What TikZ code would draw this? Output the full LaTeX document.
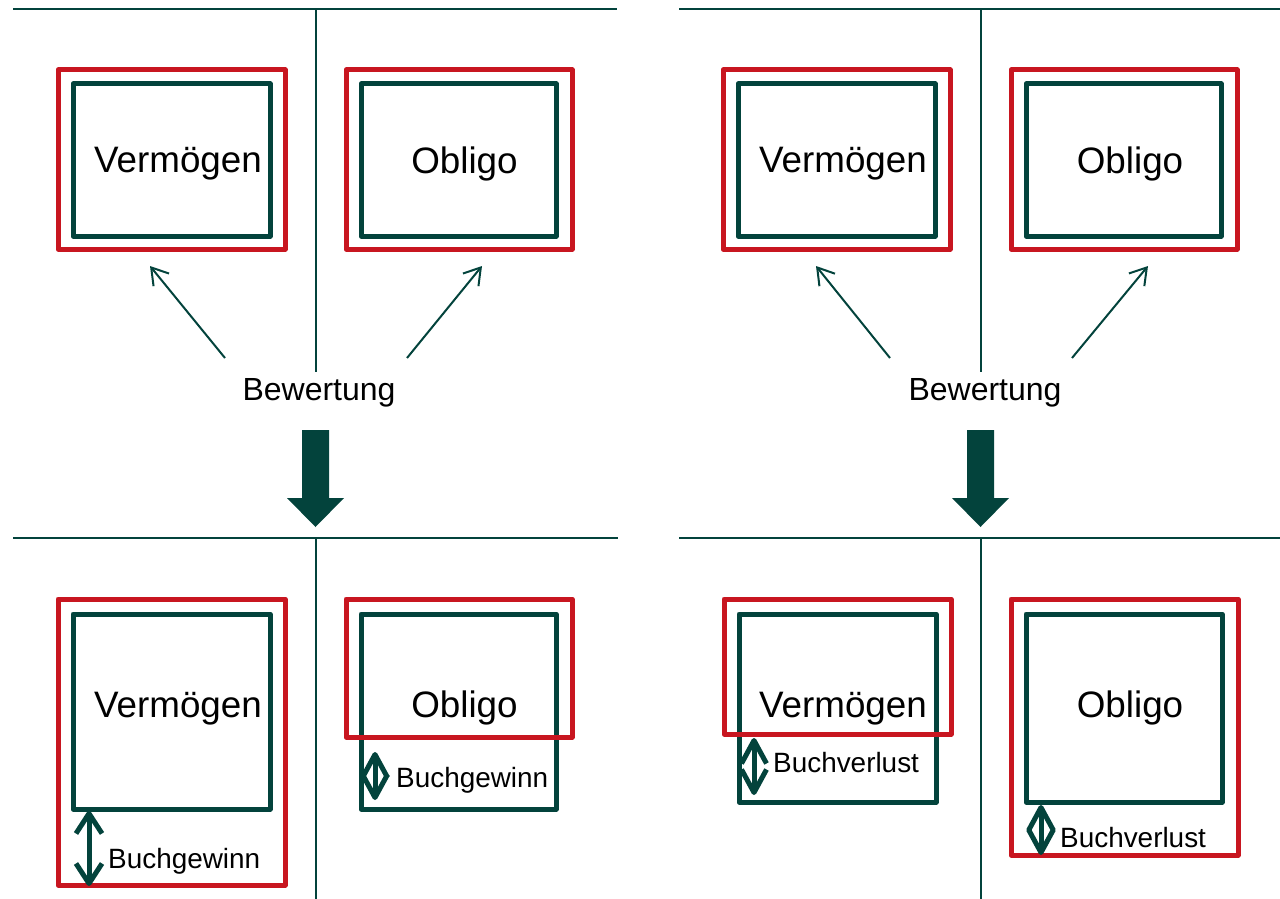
\documentclass[tikz,border=0pt]{standalone}
\usepackage{fontspec}
\setmainfont{Liberation Sans}
\usetikzlibrary{arrows.meta}
\definecolor{dg}{RGB}{3,67,60}
\definecolor{rd}{RGB}{200,22,32}
\begin{document}
\begin{tikzpicture}[x=1pt,y=-1pt,
 sep/.style={draw=dg,line width=2.5pt},
 gbox/.style={draw=dg,line width=5pt,rectangle,inner sep=0pt,line join=round},
 rbox/.style={draw=rd,line width=5pt,rectangle,inner sep=0pt,line join=round},
 bigtxt/.style={font=\fontsize{36.8}{40}\selectfont,anchor=base,inner sep=0pt},
 bewtxt/.style={font=\fontsize{32}{36}\selectfont,anchor=base,inner sep=0pt},
 smalltxt/.style={font=\fontsize{27.9}{30}\selectfont,anchor=base west,inner sep=0pt},
 dbl/.style={draw=dg,line width=5pt,{Straight Barb[length=20pt,width=26pt,line join=round]}-{Straight Barb[length=20pt,width=26pt,line join=round]}},
 dbls/.style={draw=dg,line width=5pt,{Straight Barb[length=23pt,width=25pt,line join=round]}-{Straight Barb[length=23pt,width=25pt,line join=round]}},
 thinarr/.style={draw=dg,line width=2pt,-{Straight Barb[length=16pt,width=20pt]}},
 blockarr/.style={fill=dg}
]
\useasboundingbox (0,0) rectangle (1280,899);

% separators
\draw[sep] (13,9) -- (617,9);
\draw[sep] (679,9) -- (1280,9);
\draw[sep] (13,538) -- (618,538);
\draw[sep] (679,538) -- (1280,538);
\draw[sep] (316,9) -- (316,372);
\draw[sep] (316,538) -- (316,899);
\draw[sep] (981,9) -- (981,372);
\draw[sep] (981,538) -- (981,899);

% ---------- top left ----------
\node[gbox,minimum width=197pt,minimum height=152pt] (gv1) at (171.5,160) {};
\node[rbox,minimum width=227pt,minimum height=179pt] (rv1) at (171.5,159.5) {};
\node[gbox,minimum width=195pt,minimum height=152pt] (go1) at (458.5,160) {};
\node[rbox,minimum width=226pt,minimum height=179pt] (ro1) at (459,159.5) {};
\node[bigtxt] (tv1) at (178,172) {Vermögen};
\node[bigtxt] (to1) at (464.5,173) {Obligo};
\node[bewtxt] (bw1) at (319,400) {Bewertung};
\coordinate (b1s) at (225,358); \coordinate (b1e) at (150,266);
\coordinate (b2s) at (407,358); \coordinate (b2e) at (482,266);
\draw[thinarr] (b1s) -- (b1e);
\draw[thinarr] (b2s) -- (b2e);
\fill[blockarr] (302,430) -- (329,430) -- (329,498) -- (344,498) -- (315.5,527) -- (287,498) -- (302,498) -- cycle;

% ---------- top right ----------
\node[gbox,minimum width=197pt,minimum height=152pt] (gv2) at (836.5,160) {};
\node[rbox,minimum width=227pt,minimum height=179pt] (rv2) at (836.5,159.5) {};
\node[gbox,minimum width=195pt,minimum height=152pt] (go2) at (1123.5,160) {};
\node[rbox,minimum width=226pt,minimum height=179pt] (ro2) at (1124,159.5) {};
\node[bigtxt] (tv2) at (843,172) {Vermögen};
\node[bigtxt] (to2) at (1130,173) {Obligo};
\node[bewtxt] (bw2) at (985,400) {Bewertung};
\coordinate (b3s) at (890,358); \coordinate (b3e) at (816,266);
\coordinate (b4s) at (1072,358); \coordinate (b4e) at (1148,266);
\draw[thinarr] (b3s) -- (b3e);
\draw[thinarr] (b4s) -- (b4e);
\fill[blockarr] (967,430) -- (994,430) -- (994,498) -- (1009,498) -- (980.5,527) -- (952,498) -- (967,498) -- cycle;

% ---------- bottom left ----------
\node[gbox,minimum width=197pt,minimum height=195pt] (gv3) at (171.5,711.5) {};
\node[rbox,minimum width=227pt,minimum height=286pt] (rv3) at (171.5,742) {};
\node[gbox,minimum width=195pt,minimum height=195pt] (go3) at (458.5,711.5) {};
\node[rbox,minimum width=226pt,minimum height=138pt] (ro3) at (459,668) {};
\node[bigtxt] (tv3) at (178,717) {Vermögen};
\node[bigtxt] (to3) at (464.5,717) {Obligo};
\coordinate (a1s) at (89,811); \coordinate (a1e) at (89,886);
\draw[dbl] (a1s) -- (a1e);
\node[smalltxt] (g1) at (108,868) {Buchgewinn};
\coordinate (a2s) at (375,752); \coordinate (a2e) at (375,800);
\draw[dbls] (a2s) -- (a2e);
\node[smalltxt] (g2) at (396,787) {Buchgewinn};

% ---------- bottom right ----------
\node[gbox,minimum width=197pt,minimum height=188pt] (gv4) at (837.5,708) {};
\node[rbox,minimum width=227pt,minimum height=135pt] (rv4) at (837.5,666.5) {};
\node[gbox,minimum width=196pt,minimum height=188pt] (go4) at (1124,708) {};
\node[rbox,minimum width=227pt,minimum height=256pt] (ro4) at (1124.5,727) {};
\node[bigtxt] (tv4) at (843,717) {Vermögen};
\node[bigtxt] (to4) at (1130,717) {Obligo};
\coordinate (a3s) at (754,738); \coordinate (a3e) at (754,795);
\draw[dbls] (a3s) -- (a3e);
\node[smalltxt] (v1) at (773,772) {Buchverlust};
\coordinate (a4s) at (1041,805); \coordinate (a4e) at (1041,855);
\draw[dbls] (a4s) -- (a4e);
\node[smalltxt] (v2) at (1060,847) {Buchverlust};
\end{tikzpicture}
\end{document}
